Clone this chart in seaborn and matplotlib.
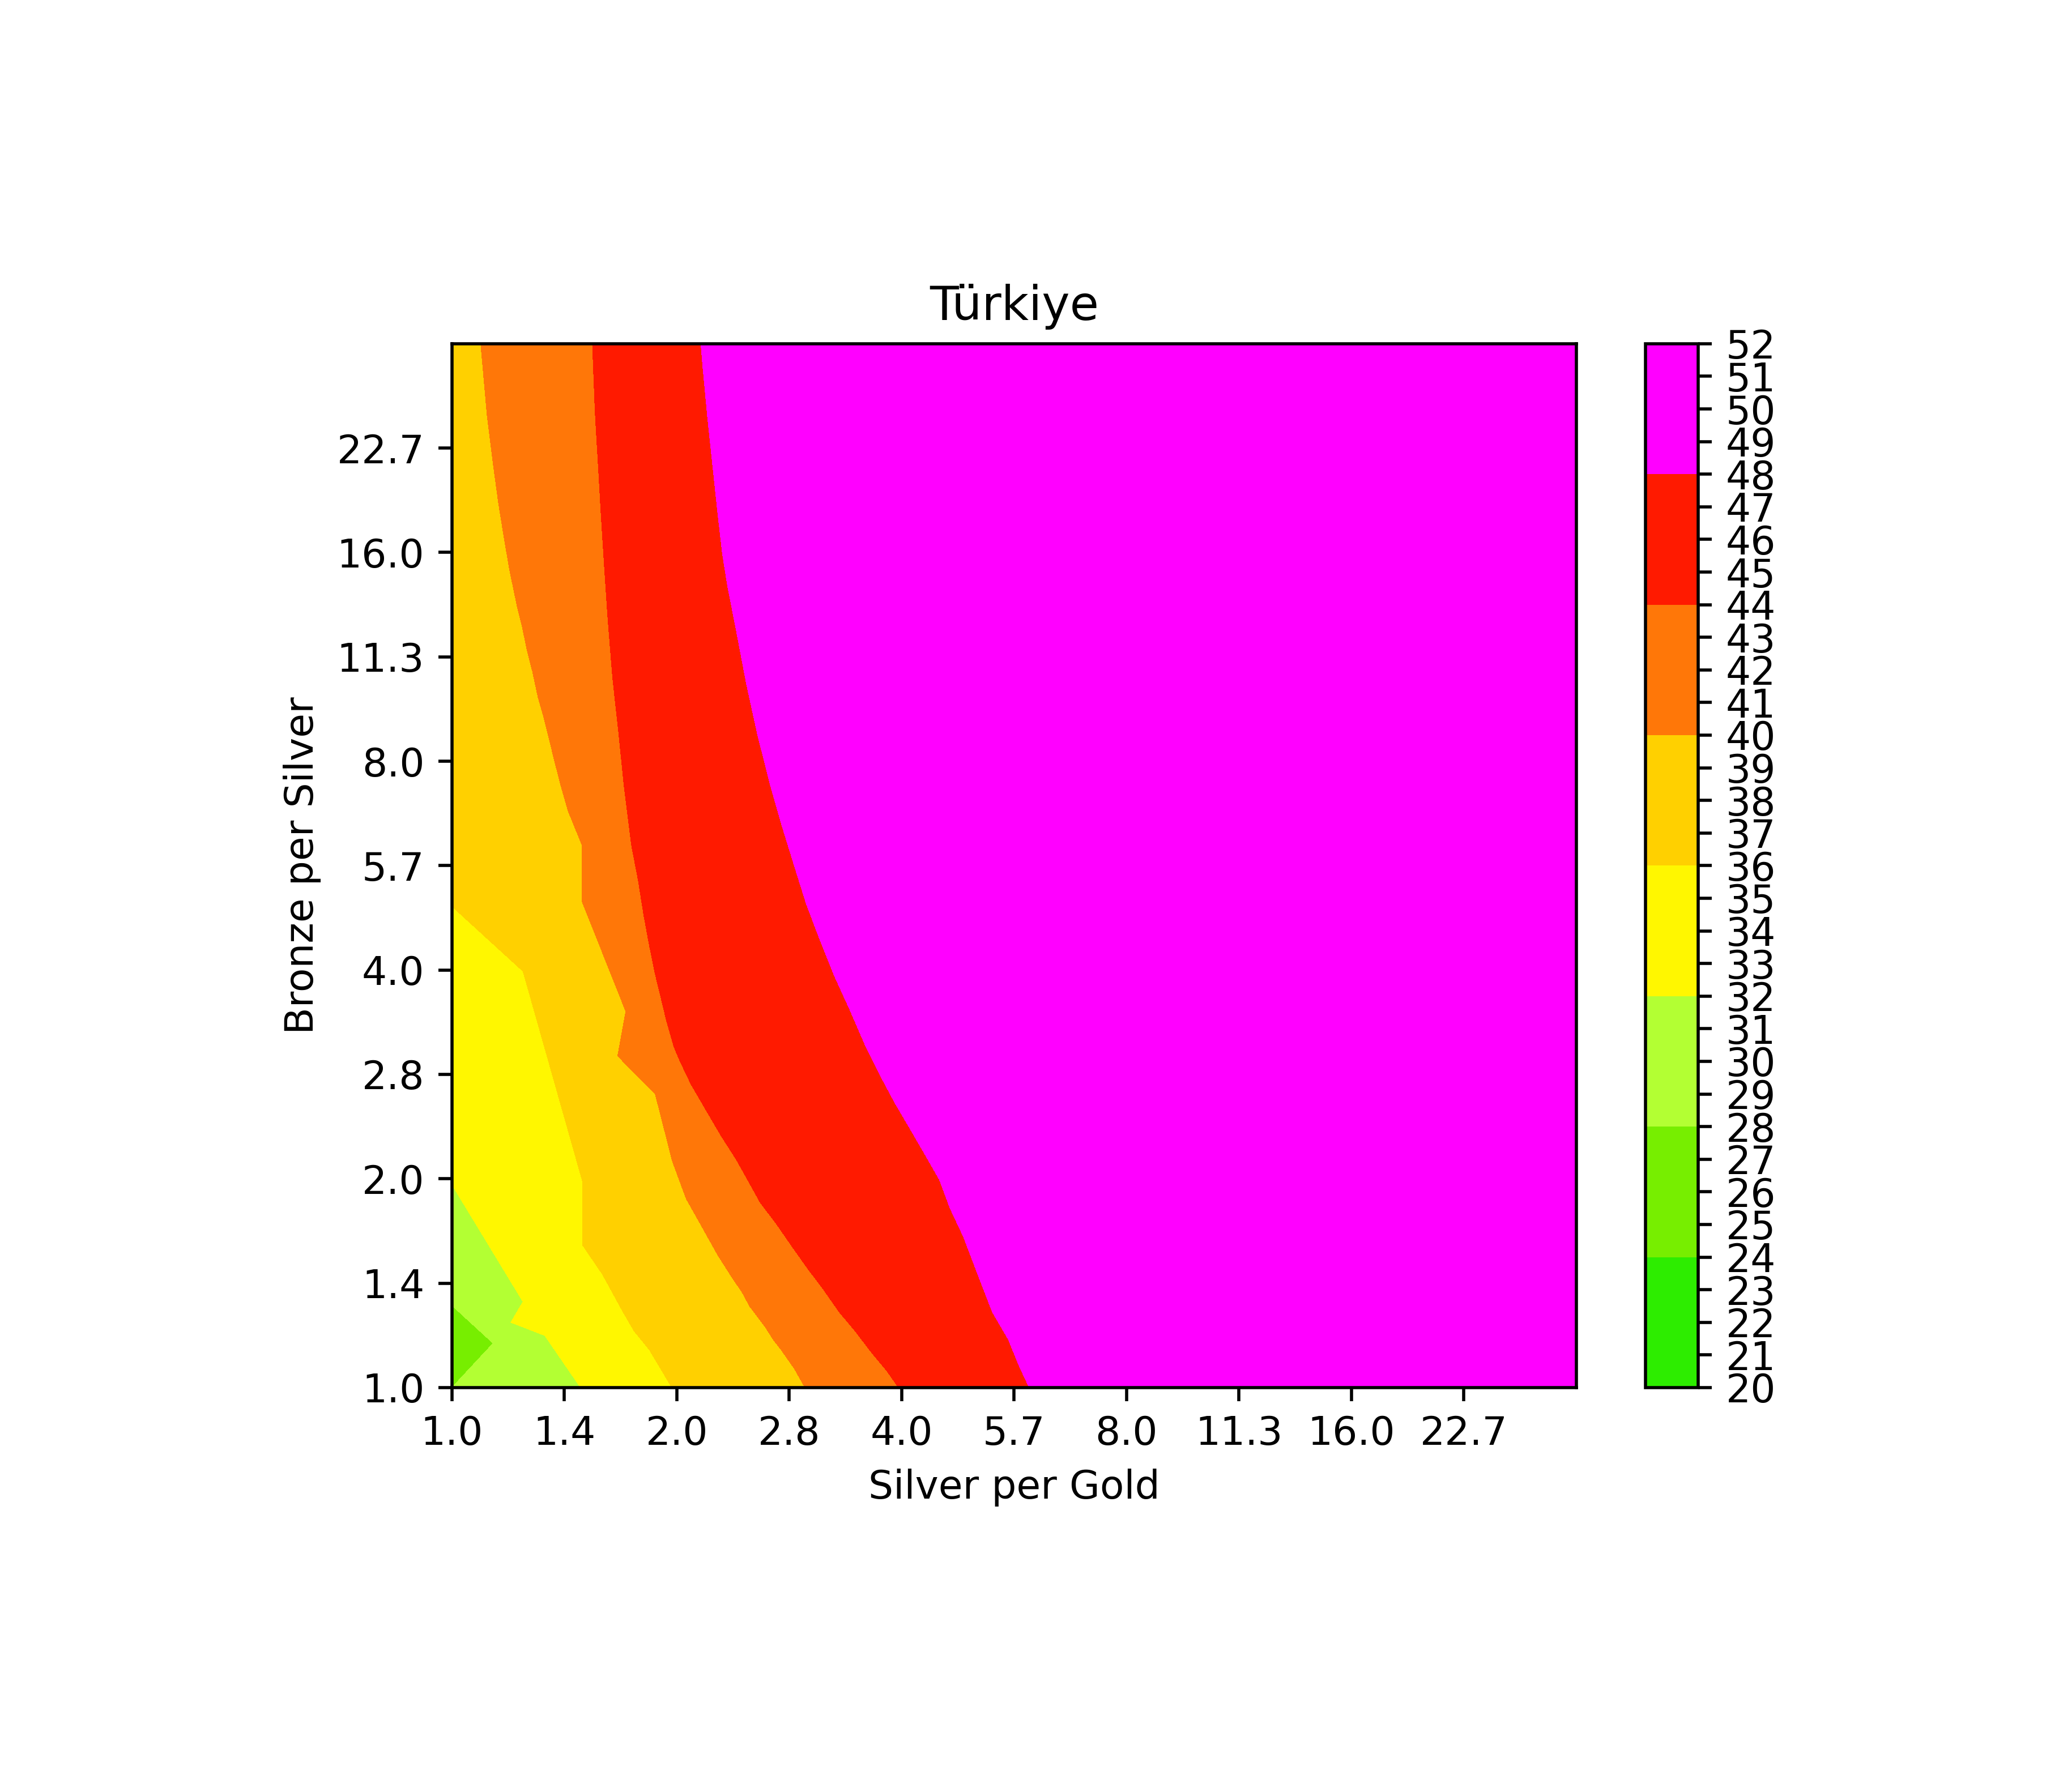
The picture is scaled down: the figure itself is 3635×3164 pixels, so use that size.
import numpy as np
import matplotlib
matplotlib.use("Agg")
import matplotlib.pyplot as plt
from matplotlib.ticker import NullLocator
import seaborn as sns

# ---------------- data ----------------
title = "Türkiye"
x_label = "Silver per Gold"
y_label = "Bronze per Silver"

# contour levels and band colours (20-24, 24-28, ..., 48-52)
levels = [20, 24, 28, 32, 36, 40, 44, 48, 52]
band_colors = ["#2ded00", "#77ee00", "#b3ff33", "#fff700",
               "#ffd000", "#ff7708", "#ff1a00", "#ff00ff"]

# axis ticks (log2 positions) and their printed labels
tick_log2 = [0, 0.5, 1, 1.5, 2, 2.5, 3, 3.5, 4, 4.5]
tick_labels = ["1.0", "1.4", "2.0", "2.8", "4.0", "5.7", "8.0", "11.3", "16.0", "22.7"]
cbar_ticks = list(range(20, 53))

# Band boundaries, as polylines from bottom to top.
# u = log2(Silver per Gold), v = log2(Bronze per Silver)
edge_value_left = 26      # value along the left edge (dark-green band)
edge_value_right = 50     # value along the right edge (magenta band)

b28_u = [0.0, 0.183, 0.0, 0.0]
b28_v = [0.0, 0.212, 0.393, 5.0]

b32_u = [0.572, 0.413, 0.262, 0.316, 0.0, 0.0]
b32_v = [0.0, 0.249, 0.312, 0.411, 0.972, 5.0]

b36_u = [0.978, 0.878, 0.810, 0.761, 0.669, 0.581, 0.581, 0.316, 0.0, 0.0]
b36_v = [0.0, 0.181, 0.271, 0.362, 0.543, 0.682, 0.986, 1.994, 2.305, 5.0]

b40_u = [1.570, 1.523, 1.464, 1.428, 1.394, 1.324, 1.288, 1.253, 1.183, 1.113,
         1.042, 0.980, 0.9035, 0.737, 0.773, 0.578, 0.578, 0.540, 0.517, 0.484,
         0.458, 0.433, 0.408, 0.383, 0.358, 0.3325, 0.312, 0.290, 0.257, 0.232,
         0.2065, 0.181, 0.156, 0.128]
b40_v = [0.0, 0.090, 0.181, 0.231, 0.289, 0.389, 0.461, 0.515, 0.633, 0.768,
         0.904, 1.085, 1.408, 1.588, 1.802, 2.330, 2.600, 2.700, 2.761, 2.885,
         2.994, 3.103, 3.212, 3.306, 3.431, 3.539, 3.648, 3.742, 3.913, 4.069,
         4.240, 4.443, 4.661, 5.0]

b44_u = [1.986, 1.933, 1.863, 1.793, 1.722, 1.652, 1.582, 1.511, 1.441, 1.371,
         1.311, 1.264, 1.197, 1.130, 1.063, 1.013, 0.987, 0.954, 0.929, 0.9035,
         0.878, 0.853, 0.828, 0.798, 0.765, 0.740, 0.7145, 0.6935, 0.677, 0.6616,
         0.650, 0.643, 0.6365, 0.6247]
b44_v = [0.0, 0.081, 0.172, 0.271, 0.362, 0.470, 0.570, 0.678, 0.787, 0.886,
         1.003, 1.093, 1.206, 1.329, 1.453, 1.566, 1.633, 1.757, 1.869, 1.982,
         2.117, 2.263, 2.432, 2.600, 2.885, 3.150, 3.399, 3.680, 3.945, 4.209,
         4.428, 4.552, 4.676, 5.0]

b48_u = [2.567, 2.520, 2.474, 2.403, 2.338, 2.274, 2.215, 2.168, 2.104, 2.037,
         1.970, 1.903, 1.836, 1.768, 1.701, 1.634, 1.575, 1.516, 1.466, 1.416,
         1.359, 1.310, 1.266, 1.225, 1.203, 1.193, 1.183, 1.166, 1.156, 1.146,
         1.136, 1.126, 1.115, 1.107]
b48_v = [0.0, 0.109, 0.231, 0.362, 0.543, 0.724, 0.859, 0.995, 1.116, 1.240,
         1.363, 1.498, 1.644, 1.813, 1.971, 2.151, 2.319, 2.522, 2.696, 2.885,
         3.127, 3.368, 3.617, 3.843, 3.991, 4.085, 4.178, 4.349, 4.451, 4.552,
         4.653, 4.770, 4.894, 5.0]

u_min, u_max = 0.0, 5.0

# ---------------- style ----------------
sns.set_theme(style="ticks", rc={
    "axes.edgecolor": "black", "axes.linewidth": 0.8,
    "xtick.color": "black", "ytick.color": "black",
    "xtick.major.size": 3.5, "ytick.major.size": 3.5,
    "xtick.major.width": 0.8, "ytick.major.width": 0.8,
    "font.size": 10, "axes.labelsize": 10, "axes.titlesize": 12,
    "xtick.labelsize": 10, "ytick.labelsize": 10,
    "text.color": "black", "axes.labelcolor": "black",
    "axes.grid": False,
})
plt.rcParams["font.family"] = ["DejaVu Sans"]


# ---------------- structured (curvilinear) grid from the boundaries ----------------
def pad_on_last_segment(u, v, n):
    """Add collinear vertices on the last (left-edge) segment so all columns share n rows."""
    u, v = list(u), list(v)
    extra = n - len(u)
    if extra <= 0:
        return u, v
    mid_v = np.linspace(v[-2], v[-1], extra + 2)[1:-1]
    return u[:-1] + [u[-1]] * extra + [u[-1]], v[:-1] + list(mid_v) + [v[-1]]


n = len(b48_v)
c28 = pad_on_last_segment(b28_u, b28_v, n)
c32 = pad_on_last_segment(b32_u, b32_v, n)
c36 = pad_on_last_segment(b36_u, b36_v, n)
c40 = (b40_u, b40_v)
c44 = (b44_u, b44_v)
c48 = (b48_u, b48_v)
left = ([u_min] * n, c28[1])
right = ([u_max] * n, c48[1])

columns = [left, c28, c32, c36, c40, c44, c48, right]
col_vals = [edge_value_left, 28, 32, 36, 40, 44, 48, edge_value_right]

U = np.column_stack([np.asarray(c[0], float) for c in columns])
V = np.column_stack([np.asarray(c[1], float) for c in columns])
Z = np.tile(np.asarray(col_vals, float), (n, 1))

X = np.exp2(U)
Y = np.exp2(V)

fig = plt.figure(figsize=(7.27, 6.328), dpi=500)
ax = fig.add_axes([0.2195, 0.2257, 0.5461, 0.5825])
cax = fig.add_axes([0.7992, 0.2257, 0.0255, 0.5825])

cs = ax.contourf(X, Y, Z, levels=levels, colors=band_colors, antialiased=False)

ax.set_xscale("log", base=2)
ax.set_yscale("log", base=2)
ax.set_xlim(2 ** u_min, 2 ** u_max)
ax.set_ylim(2 ** u_min, 2 ** u_max)
ticks = [2 ** t for t in tick_log2]
ax.set_xticks(ticks)
ax.set_xticklabels(tick_labels)
ax.set_yticks(ticks)
ax.set_yticklabels(tick_labels)
ax.xaxis.set_minor_locator(NullLocator())
ax.yaxis.set_minor_locator(NullLocator())
for s in ax.spines.values():
    s.set_visible(True)
    s.set_color("black")
    s.set_linewidth(0.8)

ax.set_title(title)
ax.set_xlabel(x_label)
ax.set_ylabel(y_label)

cb = fig.colorbar(cs, cax=cax, ticks=cbar_ticks)
cb.outline.set_linewidth(0.8)
cb.outline.set_edgecolor("black")
cax.tick_params(length=3.5, width=0.8, labelsize=10)

fig.savefig("out.png", dpi=500, facecolor="white")
